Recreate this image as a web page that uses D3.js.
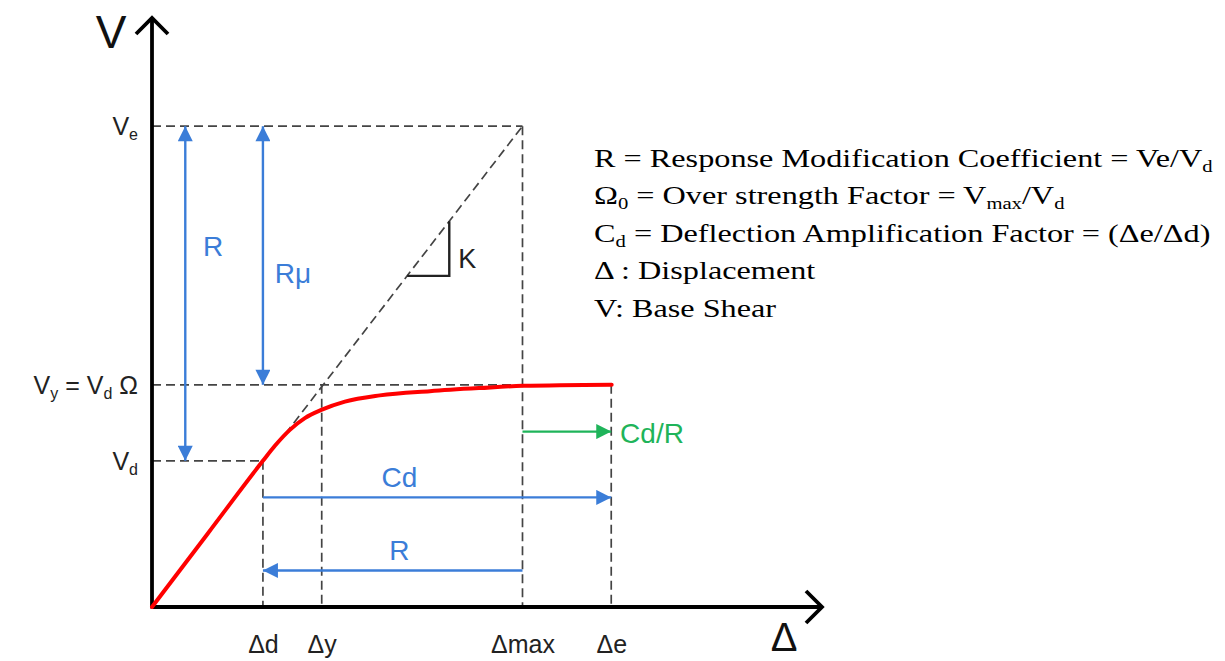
<!DOCTYPE html>
<html>
<head>
<meta charset="utf-8">
<script src="https://cdn.jsdelivr.net/npm/d3@7"></script>
<style>
  body { margin: 0; background: #fff; }
  svg text { font-family: "Liberation Sans", Arial, sans-serif; }
  .legend text { font-family: "Liberation Serif", "Times New Roman", serif; }
</style>
</head>
<body>
<svg id="chart" width="1225" height="661"></svg>
<script>
// displacement marks (in units of Δd) and their labels
const xKeys = ["d", "y", "max", "e"];
const xVals = [1, 1.53, 3.34, 4.14];
const xLabels = ["Δd", "Δy", "Δmax", "Δe"];
// base shear marks (in units of Vd)
const yKeys = ["d", "y", "e"];
const yVals = [1, 1.52, 3.29];

// pushover curve V(Δ)
const curveX = [0, 0.5, 1, 1.108, 1.243, 1.378, 1.532, 1.739, 2.054, 2.505, 2.955, 3.342, 4.144];
const curveY = [0, 0.5, 1, 1.103, 1.212, 1.292, 1.35, 1.405, 1.448, 1.477, 1.498, 1.513, 1.521];

const legendLines = [
  [["R = Response Modification Coefficient = Ve/V"], ["d", "sub"]],
  [["Ω"], ["0", "sub"], [" = Over strength Factor = V"], ["max", "sub"], ["/V"], ["d", "sub"]],
  [["C"], ["d", "sub"], [" = Deflection Amplification Factor = (Δe/Δd)"]],
  [["Δ : Displacement"]],
  [["V: Base Shear"]]
];

const xv = {}, yv = {};
xKeys.forEach((k, i) => xv[k] = xVals[i]);
yKeys.forEach((k, i) => yv[k] = yVals[i]);

const svg = d3.select("#chart");
const x = d3.scaleLinear().domain([0, 6.04]).range([152, 822]);
const y = d3.scaleLinear().domain([0, 4.03]).range([607, 18]);

const blue = "#3b7dd8", green = "#1fb45a";

// markers
const defs = svg.append("defs");
function marker(id, color) {
  defs.append("marker")
    .attr("id", id).attr("viewBox", "0 0 10 10")
    .attr("refX", 10).attr("refY", 5)
    .attr("markerWidth", 20).attr("markerHeight", 15)
    .attr("markerUnits", "userSpaceOnUse")
    .attr("orient", "auto-start-reverse")
    .append("path").attr("d", "M0,0 L10,5 L0,10 Z").attr("fill", color);
}
marker("ab", blue);
marker("ag", green);

// dashed guides
const dash = svg.append("g").attr("stroke", "#444").attr("stroke-width", 1.7)
  .attr("stroke-dasharray", "9,5").attr("fill", "none");
const guides = [
  [0, yv.e, xv.max, yv.e],
  [xv.max, yv.e, xv.max, 0],
  [0, yv.y, xv.max, yv.y],
  [0, yv.d, xv.d, yv.d],
  [xv.d, yv.d, xv.d, 0],
  [xv.y, yv.y, xv.y, 0],
  [xv.e, yv.y, xv.e, 0],
  [1.2, 1.2 * yv.e / xv.max, xv.max, yv.e]
];
dash.selectAll("line").data(guides).enter().append("line")
  .attr("x1", d => x(d[0])).attr("y1", d => y(d[1]))
  .attr("x2", d => x(d[2])).attr("y2", d => y(d[3]));

// K slope triangle
const kx0 = 2.3, kx1 = 2.68;
svg.append("path")
  .attr("d", `M${x(kx0)},${y(kx0 * yv.e / xv.max)} H${x(kx1)} V${y(kx1 * yv.e / xv.max)}`)
  .attr("fill", "none").attr("stroke", "#222").attr("stroke-width", 2.4);
svg.append("text").attr("x", x(kx1) + 9).attr("y", y(2.32)).attr("font-size", 27)
  .attr("fill", "#222").text("K");

// axes
const xAxis = d3.axisBottom(x).tickValues(xVals).tickFormat((d, i) => xLabels[i])
  .tickSize(0).tickPadding(28);
const gx = svg.append("g").attr("transform", `translate(0,${y(0)})`).call(xAxis);
gx.selectAll(".tick text").attr("font-size", 25).attr("fill", "#222")
  .attr("font-family", "Liberation Sans, Arial, sans-serif");

const yAxis = d3.axisLeft(y).tickValues(yVals).tickFormat("").tickSize(0);
const gy = svg.append("g").attr("transform", `translate(${x(0)},0)`).call(yAxis);
gy.selectAll(".tick").each(function (d, i) {
  const t = d3.select(this).append("text").attr("x", -14).attr("dy", "0.35em")
    .attr("text-anchor", "end").attr("font-size", 25).attr("fill", "#222")
    .attr("font-family", "Liberation Sans, Arial, sans-serif");
  const k = yKeys[i];
  if (k === "y") {
    t.append("tspan").text("V");
    t.append("tspan").attr("font-size", 16).attr("dy", 5).text("y");
    t.append("tspan").attr("dy", -5).text(" = V");
    t.append("tspan").attr("font-size", 16).attr("dy", 5).text("d");
    t.append("tspan").attr("dy", -5).text(" Ω");
  } else {
    t.append("tspan").text("V");
    t.append("tspan").attr("font-size", 16).attr("dy", 5).text(k);
  }
});
[gx, gy].forEach(g => g.select(".domain").attr("stroke", "#000").attr("stroke-width", 3.8));
gx.select(".domain").attr("d", `M${x(0)},0 H${x(6.04)}`);
gy.select(".domain").attr("d", `M0,${y(0) + 1.5} V${y(4.03)}`);

// axis arrow chevrons
svg.append("path").attr("d", `M${x(0) - 16},${y(4.03) + 16} L${x(0)},${y(4.03)} L${x(0) + 16},${y(4.03) + 16}`)
  .attr("fill", "none").attr("stroke", "#000").attr("stroke-width", 3.8);
svg.append("path").attr("d", `M${x(6.04) - 16},${y(0) - 16} L${x(6.04)},${y(0)} L${x(6.04) - 16},${y(0) + 16}`)
  .attr("fill", "none").attr("stroke", "#000").attr("stroke-width", 3.8);
svg.append("text").attr("x", 111).attr("y", 48).attr("text-anchor", "middle")
  .attr("font-size", 46).attr("fill", "#111").text("V");
svg.append("text").attr("x", 784).attr("y", 651).attr("text-anchor", "middle")
  .attr("font-size", 40).attr("fill", "#111").text("Δ");

// dimension arrows
const arrows = [
  { x1: 0.3, y1: yv.e, x2: 0.3, y2: yv.d, both: true, c: blue, m: "ab" },
  { x1: xv.d, y1: yv.e, x2: xv.d, y2: yv.y, both: true, c: blue, m: "ab" },
  { x1: xv.d, y1: 0.75, x2: xv.e, y2: 0.75, both: false, c: blue, m: "ab" },
  { x1: xv.max, y1: 0.25, x2: xv.d, y2: 0.25, both: false, c: blue, m: "ab" },
  { x1: xv.max, y1: 1.2, x2: xv.e, y2: 1.2, both: false, c: green, m: "ag" }
];
svg.append("g").selectAll("line").data(arrows).enter().append("line")
  .attr("x1", d => x(d.x1)).attr("y1", d => y(d.y1))
  .attr("x2", d => x(d.x2)).attr("y2", d => y(d.y2))
  .attr("stroke", d => d.c).attr("stroke-width", 2.4)
  .attr("marker-end", d => `url(#${d.m})`)
  .attr("marker-start", d => d.both ? `url(#${d.m})` : null);

const labels = [
  { t: "R", x: 0.55, y: 2.4, a: "middle", c: blue },
  { t: "Rμ", x: 1.27, y: 2.22, a: "middle", c: blue },
  { t: "Cd", x: 2.23, y: 0.82, a: "middle", c: blue },
  { t: "R", x: 2.23, y: 0.32, a: "middle", c: blue },
  { t: "Cd/R", x: 4.22, y: 1.12, a: "start", c: green }
];
svg.append("g").selectAll("text").data(labels).enter().append("text")
  .attr("x", d => x(d.x)).attr("y", d => y(d.y)).attr("text-anchor", d => d.a)
  .attr("font-size", 28).attr("fill", d => d.c).text(d => d.t);

// pushover curve
const line = d3.line().x(d => x(d[0])).y(d => y(d[1])).curve(d3.curveMonotoneX);
svg.append("path").datum(curveX.map((v, i) => [v, curveY[i]]))
  .attr("d", line).attr("fill", "none").attr("stroke", "#ff0000")
  .attr("stroke-width", 4).attr("stroke-linecap", "round");

// legend (stretched horizontally like the original)
const leg = svg.append("g").attr("class", "legend")
  .attr("transform", "translate(594,0) scale(1.29,1)");
legendLines.forEach((parts, i) => {
  const t = leg.append("text").attr("x", 0).attr("y", 167 + i * 37.5)
    .attr("font-size", 25).attr("fill", "#000");
  let shifted = false;
  parts.forEach(p => {
    const s = t.append("tspan").text(p[0]);
    if (p[1] === "sub") {
      s.attr("font-size", 16).attr("dy", shifted ? 0 : 5);
      shifted = true;
    } else if (shifted) {
      s.attr("dy", -5);
      shifted = false;
    }
  });
});
</script>
</body>
</html>
